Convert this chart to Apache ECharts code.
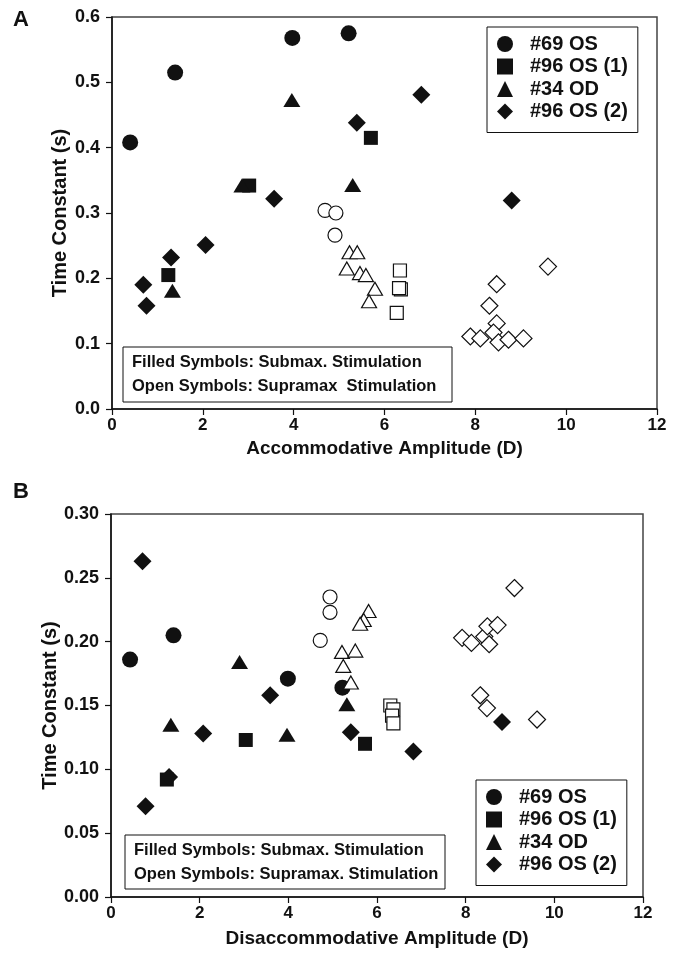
<!DOCTYPE html>
<html>
<head>
<meta charset="utf-8">
<script src="https://cdn.jsdelivr.net/npm/echarts@6/dist/echarts.min.js"></script>
<style>
  html, body { margin: 0; padding: 0; background: #fff; }
  #container { width: 681px; height: 959px; }
</style>
</head>
<body>
<div id="container"></div>
<script>
// subjects and their marker shapes
const subjects = ["#69 OS", "#96 OS (1)", "#34 OD", "#96 OS (2)"];
const symbols = ["circle", "rect", "triangle", "diamond"];

// panel A: accommodation, [amplitude (D), time constant (s)]
const accFilled69 = [[0.40, 0.408], [1.39, 0.515], [3.97, 0.568], [5.21, 0.575]];
const accFilled96a = [[1.24, 0.205], [3.02, 0.342], [5.70, 0.415]];
const accFilled34 = [[1.33, 0.181], [2.86, 0.342], [3.96, 0.473], [5.30, 0.343]];
const accFilled96b = [[0.69, 0.190], [0.76, 0.158], [1.30, 0.232], [2.06, 0.251],
  [3.57, 0.322], [5.39, 0.438], [6.81, 0.481], [8.80, 0.319]];
const accOpen69 = [[4.69, 0.304], [4.93, 0.300], [4.91, 0.266]];
const accOpen96a = [[6.34, 0.212], [6.36, 0.183], [6.32, 0.185], [6.27, 0.147]];
const accOpen34 = [[5.23, 0.240], [5.40, 0.240], [5.17, 0.215], [5.46, 0.208],
  [5.59, 0.205], [5.79, 0.184], [5.66, 0.165]];
const accOpen96b = [[9.60, 0.218], [8.47, 0.191], [8.31, 0.158], [8.47, 0.131],
  [7.89, 0.111], [8.11, 0.108], [8.40, 0.117], [8.51, 0.102], [8.73, 0.106], [9.06, 0.108]];

// panel B: disaccommodation
const disFilled69 = [[0.43, 0.186], [1.41, 0.205], [3.99, 0.171], [5.22, 0.164]];
const disFilled96a = [[1.26, 0.092], [3.04, 0.123], [5.73, 0.120]];
const disFilled34 = [[1.35, 0.135], [2.90, 0.184], [3.97, 0.127], [5.32, 0.151]];
const disFilled96b = [[0.71, 0.263], [0.78, 0.071], [1.31, 0.094], [2.08, 0.128],
  [3.59, 0.158], [5.41, 0.129], [6.82, 0.114], [8.82, 0.137]];
const disOpen69 = [[4.94, 0.235], [4.94, 0.223], [4.72, 0.201]];
const disOpen96a = [[6.30, 0.150], [6.37, 0.147], [6.34, 0.142], [6.37, 0.136]];
const disOpen34 = [[5.81, 0.224], [5.70, 0.217], [5.62, 0.214], [5.21, 0.192],
  [5.51, 0.193], [5.24, 0.181], [5.41, 0.168]];
const disOpen96b = [[7.92, 0.203], [8.13, 0.199], [8.42, 0.204], [8.49, 0.212],
  [8.53, 0.198], [8.72, 0.213], [9.10, 0.242], [8.33, 0.158], [8.48, 0.148], [9.61, 0.139]];

// axis ticks
const xTicks = { min: 0, max: 12, interval: 2 };
const yTicksA = { min: 0, max: 0.6, interval: 0.1 };
const yTicksB = { min: 0, max: 0.3, interval: 0.05 };

const FONT = "'Liberation Sans', Arial, sans-serif";
const filledSize = [16, 14, [17, 14], 18];
const openSize = [14, 13, [15, 13], 17];

const dom = document.getElementById("container");
const myChart = echarts.init(dom, null, { renderer: "canvas" });

function makeXAxis(grid, name, gap) {
  return {
    gridIndex: grid,
    type: "value",
    min: xTicks.min,
    max: xTicks.max,
    interval: xTicks.interval,
    name: name,
    nameLocation: "middle",
    nameGap: gap,
    nameTextStyle: { fontFamily: FONT, fontWeight: "bold", fontSize: 19, color: "#111" },
    axisLine: { show: true, onZero: false, lineStyle: { color: "#111", width: 1.5 } },
    axisTick: { show: true, inside: false, length: 6, lineStyle: { color: "#111", width: 1.2 } },
    axisLabel: { fontFamily: FONT, fontWeight: "bold", fontSize: 17, color: "#111", margin: 8 },
    splitLine: { show: false },
  };
}

function makeYAxis(grid, t, digits, gap) {
  return {
    gridIndex: grid,
    type: "value",
    min: t.min,
    max: t.max,
    interval: t.interval,
    name: "Time Constant (s)",
    nameLocation: "middle",
    nameGap: gap,
    nameMoveOverlap: false,
    nameTextStyle: { fontFamily: FONT, fontWeight: "bold", fontSize: 20, color: "#111" },
    axisLine: { show: true, onZero: false, lineStyle: { color: "#111", width: 1.5 } },
    axisTick: { show: true, inside: false, length: 6, lineStyle: { color: "#111", width: 1.2 } },
    axisLabel: {
      fontFamily: FONT, fontWeight: "bold", fontSize: 18, color: "#111", margin: 12,
      formatter: (v) => v.toFixed(digits),
    },
    splitLine: { show: false },
  };
}

function makeSeries(grid, filled, open) {
  const out = [];
  subjects.forEach((name, i) => {
    out.push({
      name: name,
      type: "scatter",
      xAxisIndex: grid,
      yAxisIndex: grid,
      symbol: symbols[i],
      symbolSize: filledSize[i],
      itemStyle: { color: "#111", opacity: 1 },
      data: filled[i],
      z: 3,
    });
  });
  subjects.forEach((name, i) => {
    out.push({
      name: name + " supramax",
      type: "scatter",
      xAxisIndex: grid,
      yAxisIndex: grid,
      symbol: symbols[i],
      symbolSize: openSize[i],
      itemStyle: { color: "#fff", borderColor: "#111", borderWidth: 1.2, opacity: 1 },
      data: open[i],
      z: 4,
    });
  });
  return out;
}

function makeLegend(left, top) {
  return {
    data: subjects,
    orient: "vertical",
    left: left,
    top: top,
    padding: [7, 10, 11, 10],
    itemGap: 2.5,
    itemWidth: 16,
    itemHeight: 16,
    borderColor: "#111",
    borderWidth: 1,
    selectedMode: false,
    formatter: "{t|{name}}",
    textStyle: {
      rich: {
        t: { fontFamily: FONT, fontWeight: "bold", fontSize: 20, lineHeight: 20, color: "#111", padding: [0, 0, 0, 12] },
      },
    },
  };
}

function noteBox(x, y, w, h, lines) {
  return {
    type: "group",
    children: [
      {
        type: "rect",
        shape: { x: x, y: y, width: w, height: h },
        style: { fill: "#fff", stroke: "#111", lineWidth: 1 },
      },
      {
        type: "text",
        style: {
          x: x + 9,
          y: y + 3,
          text: lines.join("\n"),
          font: "bold 16.5px " + FONT,
          lineHeight: 24,
          fill: "#111",
        },
      },
    ],
  };
}

const option = {
  backgroundColor: "#fff",
  animation: false,
  title: [
    { text: "A", left: 8, top: 4, textStyle: { fontFamily: FONT, fontWeight: "bold", fontSize: 22, color: "#111" } },
    { text: "B", left: 8, top: 476, textStyle: { fontFamily: FONT, fontWeight: "bold", fontSize: 22, color: "#111" } },
  ],
  grid: [
    { left: 112, top: 17, width: 545, height: 392, show: true, borderColor: "#444", borderWidth: 1.5 },
    { left: 111, top: 514, width: 532, height: 383, show: true, borderColor: "#444", borderWidth: 1.5 },
  ],
  xAxis: [
    makeXAxis(0, "Accommodative Amplitude (D)", 30),
    makeXAxis(1, "Disaccommodative Amplitude (D)", 32),
  ],
  yAxis: [makeYAxis(0, yTicksA, 1, 42), makeYAxis(1, yTicksB, 2, 51)],
  legend: [makeLegend(487, 27), makeLegend(476, 780)],
  graphic: [
    noteBox(123, 347, 329, 55, [
      "Filled Symbols: Submax. Stimulation",
      "Open Symbols: Supramax  Stimulation",
    ]),
    noteBox(125, 835, 320, 54, [
      "Filled Symbols: Submax. Stimulation",
      "Open Symbols: Supramax. Stimulation",
    ]),
  ],
  series: [
    ...makeSeries(0,
      [accFilled69, accFilled96a, accFilled34, accFilled96b],
      [accOpen69, accOpen96a, accOpen34, accOpen96b]),
    ...makeSeries(1,
      [disFilled69, disFilled96a, disFilled34, disFilled96b],
      [disOpen69, disOpen96a, disOpen34, disOpen96b]),
  ],
};

myChart.setOption(option);
window.addEventListener("resize", myChart.resize);
</script>
</body>
</html>
